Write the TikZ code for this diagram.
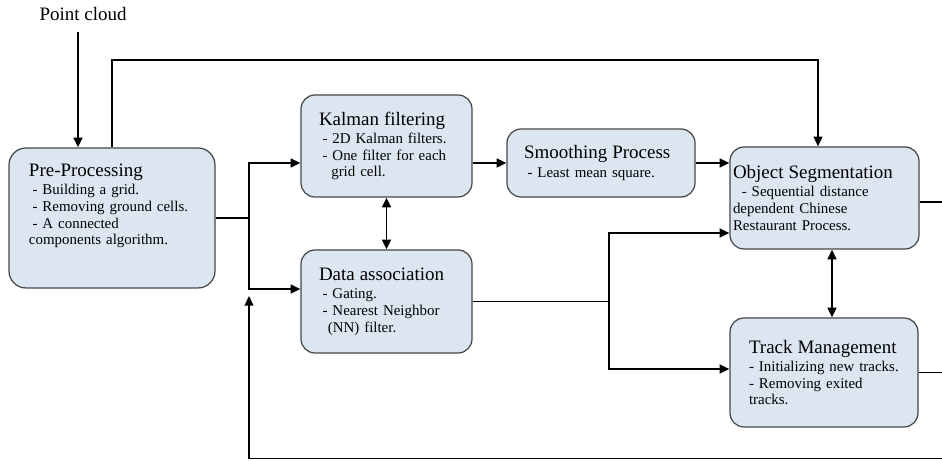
\documentclass[tikz,border=0pt]{standalone}
\usepackage{fontspec}
\setmainfont{Liberation Serif}
\usepackage{tikz}
\usetikzlibrary{
  positioning,
  calc,
  arrows.meta
}
\definecolor{boxblue}{RGB}{220,230,241}
\definecolor{boxedge}{RGB}{70,70,70}
\newcommand{\titlefont}{\fontsize{10.8}{12}\selectfont}
\newcommand{\itemfont}{\fontsize{8.5}{9.5}\selectfont}

\begin{document}
\begin{tikzpicture}[
    stage/.style={draw=boxedge, line width=0.7pt, fill=boxblue, rounded corners=0.28cm,
      align=left, font=\itemfont, inner ysep=0pt},
    arr/.style={line width=1.1pt, -{Triangle[length=5.5pt,width=5pt]}},
    link/.style={line width=1.1pt},
    twoway/.style={line width=1.1pt, {Triangle[length=5.5pt,width=5pt]}-{Triangle[length=5.5pt,width=5pt]}}
  ]
  \useasboundingbox (0,0) rectangle (18.84,9.22);

  % Input
  \node (pc) at (1.66,8.94) {\titlefont Point cloud};

  % Processing stages
  \node[stage, rounded corners=0.34cm, text width=3.32cm, inner xsep=0.4cm, minimum height=2.8cm] (pre) at (2.24,4.86) {%
    {\titlefont Pre-Processing}\\[1pt]
    \hspace*{2pt}- Building a grid.\\
    \hspace*{2pt}- Removing ground cells.\\
    \hspace*{2pt}- A connected\\
    components algorithm.\rule[-0.55cm]{0pt}{0pt}};

  \node[stage, text width=2.7cm, inner xsep=0.36cm, minimum height=2.04cm] (kal) at (7.73,6.30) {%
    {\titlefont Kalman filtering}\\[1pt]
    \hspace*{2pt}- 2D Kalman filters.\\
    \hspace*{2pt}- One filter for each\\
    \hspace*{7pt}grid cell.};

  \node[stage, text width=2.7cm, inner xsep=0.36cm, minimum height=2.06cm] (da) at (7.73,3.19) {%
    {\titlefont Data association}\\[1pt]
    \hspace*{2pt}- Gating.\\
    \hspace*{2pt}- Nearest Neighbor\\
    \hspace*{5pt}(NN) filter.};

  \node[stage, text width=3.08cm, inner xsep=0.34cm, minimum height=1.36cm] (sm) at (12.02,5.96) {%
    {\titlefont Smoothing Process}\\[1pt]
    \hspace*{2pt}- Least mean square.};

  \node[stage, text width=3.66cm, inner xsep=0.06cm, minimum height=2.04cm] (os) at (16.49,5.26) {%
    {\titlefont Object Segmentation}\\[1pt]
    \hspace*{5pt}- Sequential distance\\
    dependent Chinese\\
    Restaurant Process.};

  \node[stage, text width=3.0cm, inner xsep=0.38cm, minimum height=2.18cm] (tm) at (16.48,1.77) {%
    {\titlefont Track Management}\\[1pt]
    - Initializing new tracks.\\
    - Removing exited\\
    tracks.};

  % Helper points
  \coordinate (topline) at (0,8.02);
  \coordinate (split1) at (4.98,0);
  \coordinate (split2) at (12.18,0);
  \coordinate (rim) at (18.84,0.05);

  % Connectors
  \draw[arr] ([xshift=-0.1cm,yshift=-0.1cm]pc.south) -- ([xshift=-0.1cm]pc.south |- pre.north);
  \draw[arr, line width=0.8pt] (pre.north) |- ([xshift=-0.13cm]os.north |- topline) -- ([xshift=-0.13cm]os.north);

  \draw[link, line width=0.7pt] (pre.east) -- (pre.east -| split1);
  \draw[arr] (pre.east -| split1) |- (kal.west |- sm.west);
  \draw[arr] (pre.east -| split1) |- ([yshift=0.25cm]da.west);
  \draw[twoway] (kal.south) -- (da.north);
  \draw[arr] (kal.east |- sm.west) -- (sm.west);
  \draw[arr] (sm.east) -- (os.west |- sm.east);

  \draw[link] (da.east) -- (da.east -| split2);
  \draw[arr] (da.east -| split2) |- ([yshift=-0.7cm]os.west);
  \draw[arr] (da.east -| split2) |- ([yshift=0.07cm]tm.west);
  \draw[twoway] ([xshift=0.15cm]os.south) -- ([xshift=0.15cm]os.south |- tm.north);

  % Outputs and feedback
  \draw[link] ([yshift=-0.08cm]os.east) -- ([yshift=-0.08cm]os.east -| rim);
  \draw[link] (tm.east) -- (tm.east -| rim);
  \draw[arr, line width=0.8pt] (rim) -| ([yshift=0.11cm]da.west -| split1);
\end{tikzpicture}
\end{document}
